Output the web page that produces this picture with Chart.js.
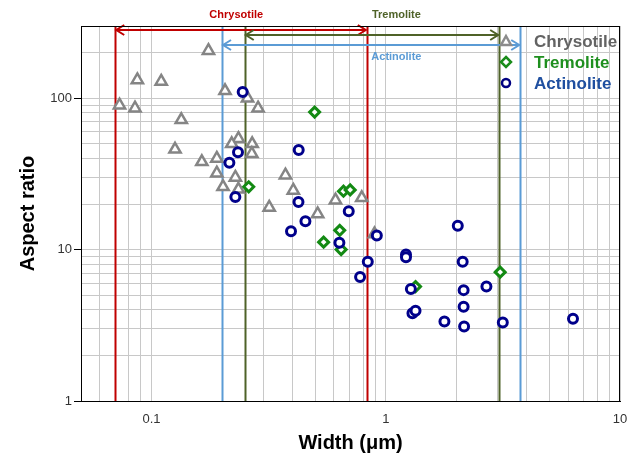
<!DOCTYPE html>
<html>
<head>
<meta charset="utf-8">
<script src="https://cdn.jsdelivr.net/npm/chart.js@4.4.1/dist/chart.umd.min.js"></script>
<style>
  html, body { margin: 0; padding: 0; background: #fff; }
  #wrap { width: 629px; height: 461px; }
</style>
</head>
<body>
<div id="wrap"><canvas id="chart"></canvas></div>
<script>
// width (um) and aspect ratio
const chrysotileX = [0.175, 0.087, 0.110, 0.206, 0.257, 0.073, 0.085, 0.285, 0.134, 0.126, 0.235, 0.220, 0.269, 0.268,
  0.164, 0.190, 0.190, 0.228, 0.202, 0.235, 0.373, 0.403, 0.318, 0.512, 0.61, 0.79, 0.895];
const chrysotileY = [206, 132, 129, 112, 100, 90, 86, 86, 72, 46, 54, 50, 50, 43,
  38, 40, 32, 30, 26, 25, 31, 24.6, 19, 17.2, 21.2, 22, 12.7];

const tremoliteX = [0.497, 0.26, 0.66, 0.705, 0.636, 0.543, 0.645, 1.34, 3.08];
const tremoliteY = [81, 26, 24.3, 24.8, 13.4, 11.2, 10, 5.7, 7.1];

const actinoliteX = [0.245, 0.234, 0.215, 0.228, 0.425, 0.424, 0.454, 0.394, 0.695, 0.634, 0.916, 0.838, 0.777, 1.22,
  1.22, 1.28, 2.03, 2.13, 2.15, 2.69, 2.15, 1.30, 1.34, 1.78, 2.16, 3.16, 6.3];
const actinoliteY = [110, 44, 37.5, 22.3, 45.5, 20.6, 15.4, 13.2, 17.9, 11.1, 12.4, 8.3, 6.6, 9.3,
  8.9, 5.5, 14.4, 8.3, 5.4, 5.7, 4.2, 3.8, 3.95, 3.35, 3.1, 3.3, 3.5];

// width ranges marked by the vertical lines
const rangeNames = ['Chrysotile', 'Tremolite', 'Actinolite'];
const rangeMin = [0.07, 0.25, 0.2];
const rangeMax = [0.83, 3.05, 3.75];

const xTickLabels = [0.1, 1, 10];
const yTickLabels = [1, 10, 100];
// gridline positions
const xGrid = [0.05, 0.06, 0.07, 0.08, 0.09, 0.1, 0.2, 0.3, 0.4, 0.5, 0.6, 0.7, 0.8, 0.9,
  1, 2, 3, 4, 5, 6, 7, 8, 9, 10];
const yGrid = [1, 2, 3, 4, 5, 6, 7, 8, 9, 10, 20, 30, 40, 50, 60, 70, 80, 90, 100, 200, 300];

const pts = (xs, ys) => xs.map((v, i) => ({ x: v, y: ys[i] }));
const isLabel = (list, v) => list.some(t => Math.abs(t - v) < 1e-9 * t);

const lineColors = ['#c00000', '#4f6228', '#5b9bd5'];
const labelColors = ['#c00000', '#4f6228', '#5b9bd5'];
const GRID = '#c8c8c8';
const FONT = '"Liberation Sans", Arial, sans-serif';

const overlay = {
  id: 'overlay',
  beforeDatasetsDraw(chart) {
    const { ctx, chartArea: a, scales: { x } } = chart;
    ctx.save();
    ctx.lineWidth = 2;
    rangeNames.forEach((n, i) => {
      ctx.strokeStyle = lineColors[i];
      [rangeMin[i], rangeMax[i]].forEach(v => {
        const px = Math.round(x.getPixelForValue(v)) + 0.5;
        ctx.beginPath();
        ctx.moveTo(px, a.top);
        ctx.lineTo(px, a.bottom);
        ctx.stroke();
      });
    });
    ctx.restore();
  },
  afterDatasetsDraw(chart) {
    const { ctx, chartArea: a, scales: { x } } = chart;
    ctx.save();

    // arrows between the range lines
    const arrowY = [a.top + 4, a.top + 9, a.top + 19];
    ctx.lineWidth = 2;
    rangeNames.forEach((n, i) => {
      const x0 = x.getPixelForValue(rangeMin[i]) + 1;
      const x1 = x.getPixelForValue(rangeMax[i]) - 1;
      const y = arrowY[i];
      ctx.strokeStyle = lineColors[i];
      ctx.beginPath();
      ctx.moveTo(x0, y); ctx.lineTo(x1, y);
      ctx.moveTo(x0 + 8, y - 5); ctx.lineTo(x0, y); ctx.lineTo(x0 + 8, y + 5);
      ctx.moveTo(x1 - 8, y - 5); ctx.lineTo(x1, y); ctx.lineTo(x1 - 8, y + 5);
      ctx.stroke();
    });

    // range labels
    const labelX = [0.23, 1.11, 1.11];
    const labelY = [15, 15, a.top + 31];
    ctx.font = 'bold 11px ' + FONT;
    ctx.textAlign = 'center';
    ctx.textBaseline = 'middle';
    rangeNames.forEach((n, i) => {
      ctx.fillStyle = labelColors[i];
      ctx.fillText(n, x.getPixelForValue(labelX[i]), labelY[i]);
    });

    // legend
    const lx = a.right - 114, tx = a.right - 86;
    const ly = [a.top + 15, a.top + 36, a.top + 57];
    const legColors = ['#8c8c8c', '#1a8c1a', '#000080'];
    const textColors = ['#636363', '#1f8f1f', '#1f4fa0'];
    ctx.lineWidth = 2.5;
    legColors.forEach((c, i) => {
      ctx.strokeStyle = c;
      ctx.beginPath();
      if (i === 0) {
        ctx.moveTo(lx, ly[i] - 5); ctx.lineTo(lx + 5, ly[i] + 4); ctx.lineTo(lx - 5, ly[i] + 4); ctx.closePath();
      } else if (i === 1) {
        ctx.moveTo(lx, ly[i] - 5); ctx.lineTo(lx + 5, ly[i]); ctx.lineTo(lx, ly[i] + 5); ctx.lineTo(lx - 5, ly[i]); ctx.closePath();
      } else {
        ctx.arc(lx, ly[i], 4, 0, Math.PI * 2);
      }
      ctx.stroke();
    });
    ctx.font = 'bold 17px ' + FONT;
    ctx.textAlign = 'left';
    rangeNames.forEach((n, i) => {
      ctx.fillStyle = textColors[i];
      ctx.fillText(n, tx, ly[i] + 1);
    });

    // frame
    ctx.strokeStyle = '#000';
    ctx.lineWidth = 1;
    ctx.strokeRect(a.left + 0.5, a.top + 0.5, a.right - a.left - 1, a.bottom - a.top);
    ctx.restore();
  }
};

new Chart(document.getElementById('chart'), {
  type: 'scatter',
  data: {
    datasets: [{
      label: 'Chrysotile',
      data: pts(chrysotileX, chrysotileY),
      pointStyle: 'triangle',
      pointRadius: 6.5,
      pointBorderWidth: 2.5,
      borderColor: '#858585',
      backgroundColor: '#ffffff',
      order: 2
    }, {
      label: 'Tremolite',
      data: pts(tremoliteX, tremoliteY),
      pointStyle: 'rectRot',
      pointRadius: 5,
      pointBorderWidth: 3,
      borderColor: '#138a13',
      backgroundColor: '#ffffff',
      order: 1
    }, {
      label: 'Actinolite',
      data: pts(actinoliteX, actinoliteY),
      pointStyle: 'circle',
      pointRadius: 4.5,
      pointBorderWidth: 3,
      borderColor: '#00008b',
      backgroundColor: '#ffffff',
      order: 0
    }]
  },
  options: {
    responsive: true,
    maintainAspectRatio: false,
    animation: false,
    layout: { padding: { top: 26, right: 8, left: 0, bottom: 0 } },
    plugins: {
      legend: { display: false },
      tooltip: { enabled: false }
    },
    scales: {
      x: {
        type: 'logarithmic',
        min: 0.05,
        max: 10,
        afterFit: s => { s.height = 60; s.paddingRight = 0; s.paddingLeft = 0; },
        afterBuildTicks: s => { s.ticks = xGrid.map(v => ({ value: v })); },
        grid: { color: GRID, lineWidth: 1, tickLength: 6, tickColor: 'rgba(0,0,0,0)' },
        border: { color: '#000', width: 1 },
        ticks: {
          autoSkip: false,
          maxRotation: 0,
          padding: 5,
          color: '#333',
          font: { size: 13, family: FONT },
          callback: v => isLabel(xTickLabels, v) ? String(v) : ''
        },
        title: {
          display: true,
          text: 'Width (μm)',
          color: '#000',
          font: { size: 20, weight: 'bold', family: FONT },
          padding: { top: 0, bottom: 6 }
        }
      },
      y: {
        type: 'logarithmic',
        min: 1,
        max: 300,
        afterFit: s => { s.width = 81; },
        afterBuildTicks: s => { s.ticks = yGrid.map(v => ({ value: v })); },
        grid: {
          color: c => (c.tick && isLabel(yGrid, c.tick.value)) ? GRID : 'rgba(0,0,0,0)',
          lineWidth: 1,
          tickLength: 7,
          tickColor: c => (c.tick && isLabel(yTickLabels, c.tick.value)) ? '#000' : 'rgba(0,0,0,0)'
        },
        border: { color: '#000', width: 1 },
        ticks: {
          autoSkip: false,
          padding: 2,
          color: '#333',
          font: { size: 13, family: FONT },
          callback: v => isLabel(yTickLabels, v) ? String(v) : ''
        },
        title: {
          display: true,
          text: 'Aspect ratio',
          color: '#000',
          font: { size: 20, weight: 'bold', family: FONT },
          padding: { top: 16, bottom: 0 }
        }
      }
    }
  },
  plugins: [overlay]
});
</script>
</body>
</html>
